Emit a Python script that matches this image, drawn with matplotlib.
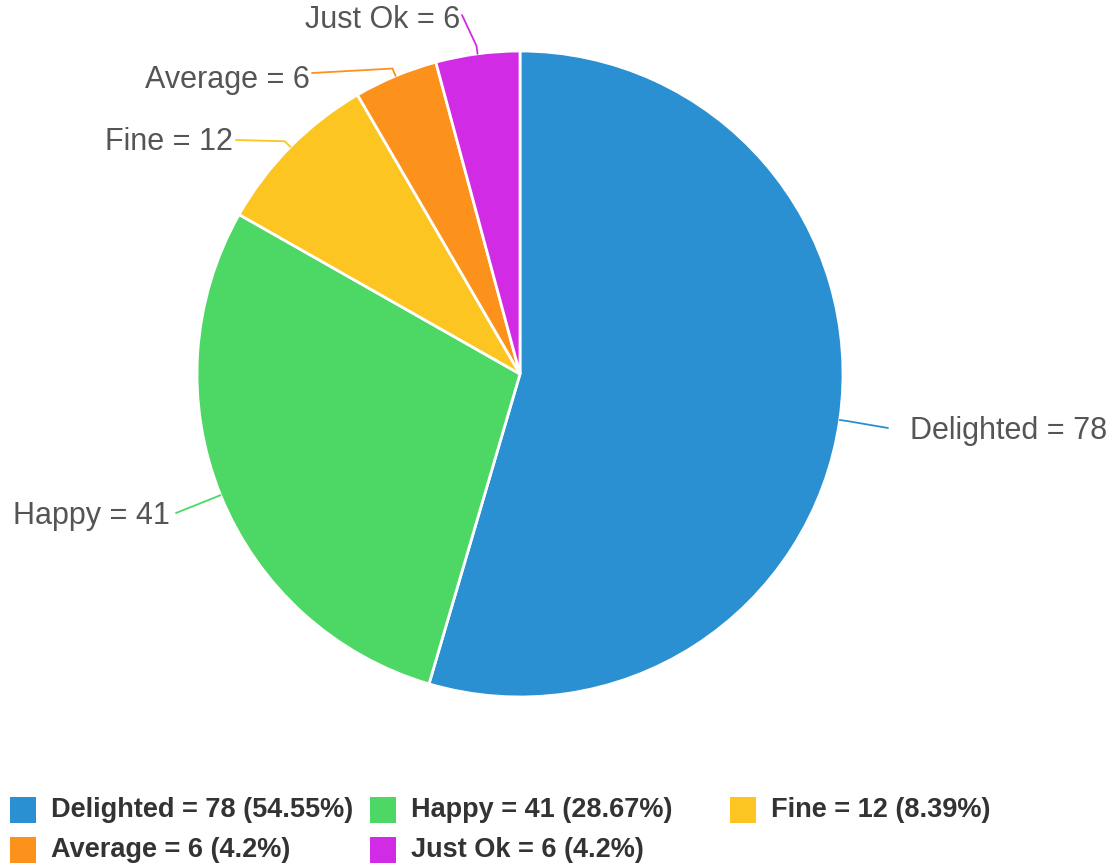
import numpy as np
import matplotlib.pyplot as plt
from matplotlib.patches import Rectangle

# slice data
labels = ['Delighted', 'Happy', 'Fine', 'Average', 'Just Ok']
values = [78, 41, 12, 6, 6]
colors = ['#2a90d2', '#4dd865', '#fcc522', '#fc921c', '#d22be6']

# where each outside label sits (pixel coords) and how it is aligned
label_pos = [(910, 431), (170, 516), (233, 142), (310, 80), (460, 20)]
label_ha = ['left', 'right', 'right', 'right', 'right']
line_end = [(888, 428), (176, 513), (236, 140), (312, 73), (462, 15)]

W, H = 1113, 865
cx, cy, r = 520, 374, 323

fig = plt.figure(figsize=(W / 100, H / 100), dpi=100)
ax = fig.add_axes([0, 0, 1, 1])

# matplotlib y goes up, so flip the pixel y
def fy(y):
    return H - y

wedges, _ = ax.pie(values, colors=colors, startangle=90, counterclock=False,
                   center=(cx, fy(cy)), radius=r, frame=True,
                   wedgeprops=dict(edgecolor='white', linewidth=2))
ax.set_xlim(0, W)
ax.set_ylim(0, H)
ax.set_aspect('equal')
ax.axis('off')

label_font = ['Liberation Sans', 'DejaVu Sans']
for w, lab, v, col, pos, ha, le in zip(wedges, labels, values, colors,
                                        label_pos, label_ha, line_end):
    mid = np.deg2rad((w.theta1 + w.theta2) / 2)
    ex, ey = cx + r * np.cos(mid), fy(cy) + r * np.sin(mid)
    bx, by = cx + (r + 8) * np.cos(mid), fy(cy) + (r + 8) * np.sin(mid)
    ax.plot([ex, bx, le[0]], [ey, by, fy(le[1])], color=col, lw=1.3,
            solid_capstyle='round')
    ax.text(pos[0], fy(pos[1]), f'{lab} = {v}', ha=ha, va='center',
            fontsize=22, color='#555555', family=label_font)

# legend drawn by hand at the bottom
total = sum(values)
leg_x = [10, 370, 730]
leg_y = [810, 850]
for i, (lab, v, col) in enumerate(zip(labels, values, colors)):
    x = leg_x[i % 3]
    y = leg_y[i // 3]
    ax.add_patch(Rectangle((x, fy(y) - 13), 26, 26, color=col, lw=0))
    pct_s = f'{round(v / total * 100, 2):g}'
    ax.text(x + 41, fy(y), f'{lab} = {v} ({pct_s}%)', ha='left', va='center',
            fontsize=19.5, fontweight='bold', color='#333333', family=label_font)

plt.savefig('out.png', dpi=100)
